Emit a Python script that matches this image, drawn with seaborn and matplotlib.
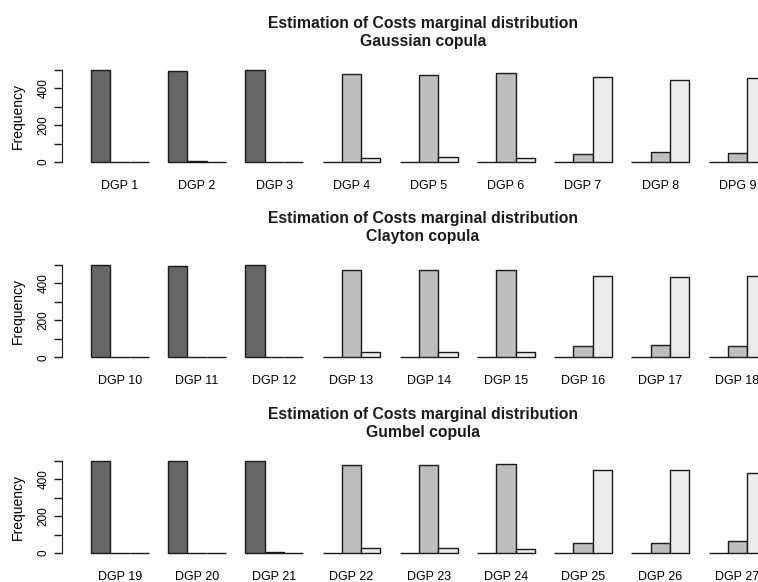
import pandas as pd
import matplotlib.pyplot as plt
import seaborn as sns
import numpy as np

# three categories per DGP (counts out of 500 replications)
levels = ["a", "b", "c"]
colors = ["#666666", "#bebebe", "#ebebeb"]

titles = ["Gaussian copula", "Clayton copula", "Gumbel copula"]

labels_gauss = ["DGP 1", "DGP 2", "DGP 3", "DGP 4", "DGP 5", "DGP 6", "DGP 7", "DGP 8", "DPG 9"]
labels_clayton = ["DGP 10", "DGP 11", "DGP 12", "DGP 13", "DGP 14", "DGP 15", "DGP 16", "DGP 17", "DGP 18"]
labels_gumbel = ["DGP 19", "DGP 20", "DGP 21", "DGP 22", "DGP 23", "DGP 24", "DGP 25", "DGP 26", "DGP 27"]

gauss_a = [500, 493, 500, 0, 0, 0, 0, 0, 0]
gauss_b = [0, 7, 0, 478, 472, 480, 42, 55, 48]
gauss_c = [0, 0, 0, 22, 28, 20, 458, 445, 452]

clayton_a = [500, 496, 500, 0, 0, 0, 0, 0, 0]
clayton_b = [0, 4, 0, 474, 474, 474, 60, 66, 60]
clayton_c = [0, 0, 0, 26, 26, 26, 440, 434, 440]

gumbel_a = [500, 500, 495, 0, 0, 0, 0, 0, 0]
gumbel_b = [0, 0, 5, 473, 473, 481, 52, 52, 65]
gumbel_c = [0, 0, 0, 27, 27, 19, 448, 448, 435]

rows = [
    (labels_gauss, gauss_a, gauss_b, gauss_c),
    (labels_clayton, clayton_a, clayton_b, clayton_c),
    (labels_gumbel, gumbel_a, gumbel_b, gumbel_c),
]

plt.rcParams["font.family"] = ["Liberation Sans", "DejaVu Sans"]

W, H = 758, 582
fig = plt.figure(figsize=(W / 100, H / 100), dpi=100)

px_per_unit = 0.185
zero_px = [162, 357.3, 553]
group_px = 77.2
axis_px = 62

for i, (labs, a, b, c) in enumerate(rows):
    df = pd.DataFrame({
        "dgp": labs * 3,
        "cat": np.repeat(levels, len(labs)),
        "count": a + b + c,
    })
    bottom_px = zero_px[i] + 20 * px_per_unit
    height_px = 540 * px_per_unit
    width_px = 9.5 * group_px
    ax = fig.add_axes([axis_px / W, (H - bottom_px) / H, width_px / W, height_px / H])
    sns.barplot(data=df, x="dgp", y="count", hue="cat", order=labs, hue_order=levels,
                palette=colors, width=0.75, edgecolor="#1a1a1a", linewidth=1.0,
                saturation=1, legend=False, ax=ax)
    ax.set_xlim(-0.75, 8.75)
    ax.set_ylim(-20, 520)
    for s in ["top", "right", "bottom"]:
        ax.spines[s].set_visible(False)
    ax.spines["left"].set_bounds(0, 500)
    ax.spines["left"].set_color("#1a1a1a")
    ax.set_yticks([0, 100, 200, 300, 400, 500])
    ax.set_yticklabels(["0", "", "200", "", "400", ""], rotation=90, va="center", fontsize=8.5)
    ax.tick_params(axis="y", length=6, width=1, color="#1a1a1a", pad=3)
    ax.tick_params(axis="x", length=0, pad=10, labelsize=9)
    ax.set_xlabel("")
    ax.set_ylabel("Frequency", fontsize=10, labelpad=9)
    ax.set_title("Estimation of Costs marginal distribution\n" + titles[i],
                 fontsize=11.3, fontweight="bold", x=(423 - axis_px) / width_px,
                 pad=14.5, linespacing=1.25, color="#1a1a1a")

fig.savefig("out.png", dpi=100)
